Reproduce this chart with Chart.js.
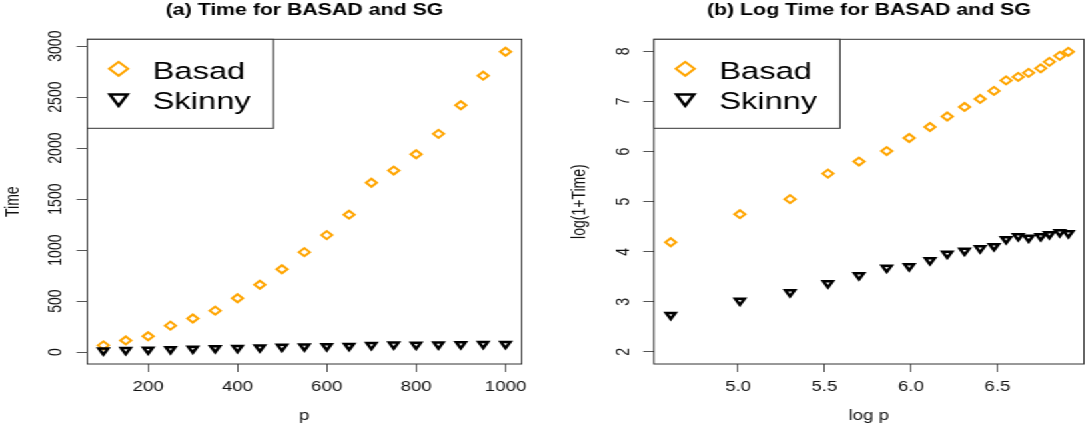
<!DOCTYPE html>
<html>
<head>
<meta charset="utf-8">
<title>Time for BASAD and SG</title>
<script src="https://cdn.jsdelivr.net/npm/chart.js@4.4.1/dist/chart.umd.min.js"></script>
<style>
    html, body { margin: 0; padding: 0; background: #fff; overflow: hidden; }
    /* both panels are drawn narrow and then widened together */
    #figure { position: absolute; left: 0; top: 0; width: 815px; height: 432px;
              transform: scaleX(1.332515); transform-origin: 0 0; }
    #figure canvas { position: absolute; top: 0; }
    #timeChart { left: 0; }
    #logChart { left: 425px; }
</style>
</head>
<body>
<div id="figure">
    <canvas id="timeChart" width="425" height="432"></canvas>
    <canvas id="logChart" width="395" height="432"></canvas>
</div>
<script>
// ==================== DATA ====================
const pValues = [100, 150, 200, 250, 300, 350, 400, 450, 500, 550, 600, 650, 700, 750, 800, 850, 900, 950, 1000];
const basadTime = [66, 114, 155, 259, 329, 406, 528, 660, 812, 980, 1147, 1347, 1660, 1780, 1940, 2140, 2420, 2710, 2945];
const skinnyTime = [14.5, 19.5, 23.3, 28.1, 33.1, 38.6, 39.9, 45.1, 51.5, 54.7, 57.6, 60.0, 69.1, 73.4, 71.2, 73.4, 76.5, 79.6, 78.0];

const logP = [4.61, 5.01, 5.30, 5.52, 5.70, 5.86, 5.99, 6.11, 6.21, 6.31, 6.40, 6.48, 6.55, 6.62, 6.68, 6.75, 6.80, 6.86, 6.91];
const basadLogTime = [4.19, 4.75, 5.05, 5.56, 5.80, 6.01, 6.27, 6.49, 6.70, 6.89, 7.05, 7.21, 7.42, 7.49, 7.57, 7.66, 7.79, 7.91, 7.99];
const skinnyLogTime = [2.74, 3.02, 3.19, 3.37, 3.53, 3.68, 3.71, 3.83, 3.96, 4.02, 4.07, 4.11, 4.25, 4.31, 4.28, 4.31, 4.35, 4.39, 4.37];

const pTicks = [200, 400, 600, 800, 1000];
const pTickLabels = ['200', '400', '600', '800', '1000'];
const timeTicks = [0, 500, 1000, 1500, 2000, 2500, 3000];
const timeTickLabels = ['0', '500', '1000', '1500', '2000', '2500', '3000'];
const logPTicks = [5.0, 5.5, 6.0, 6.5];
const logPTickLabels = ['5.0', '5.5', '6.0', '6.5'];
const logTimeTicks = [2, 3, 4, 5, 6, 7, 8];
const logTimeTickLabels = ['2', '3', '4', '5', '6', '7', '8'];

const seriesNames = ['Basad', 'Skinny'];

// ==================== STYLE ====================
const ORANGE = '#FFA500';
const INK = '#111';
const FONT = '"Liberation Sans", Arial, Helvetica, sans-serif';

Chart.defaults.font.family = FONT;
Chart.defaults.color = INK;

// ==================== PLOT FRAME ====================
const frameBox = {
    id: 'frameBox',
    afterDraw(chart) {
        const { ctx, chartArea: a } = chart;
        ctx.save();
        ctx.strokeStyle = '#333';
        ctx.lineWidth = 1;
        ctx.strokeRect(a.left, a.top, a.right - a.left, a.bottom - a.top);
        ctx.restore();
    }
};

// ==================== LEGEND IN TOP-LEFT CORNER ====================
const boxLegend = {
    id: 'boxLegend',
    afterDraw(chart) {
        const { ctx, chartArea: a } = chart;
        const w = 139.7, h = 89;
        ctx.save();
        ctx.fillStyle = '#fff';
        ctx.fillRect(a.left, a.top, w, h);
        ctx.strokeStyle = '#333';
        ctx.lineWidth = 1;
        ctx.strokeRect(a.left, a.top, w, h);

        const rows = [
            { y: 29.5, base: 39.5, style: 'rectRot', rotation: 0, radius: 7, width: 2, color: ORANGE },
            { y: 59, base: 69.5, style: 'triangle', rotation: 180, radius: 7.5, width: 2.5, color: '#000' }
        ];
        rows.forEach((row, i) => {
            ctx.strokeStyle = row.color;
            ctx.fillStyle = 'rgba(0,0,0,0)';
            ctx.lineWidth = row.width;
            Chart.helpers.drawPoint(ctx, {
                pointStyle: row.style, rotation: row.rotation, radius: row.radius, borderWidth: row.width
            }, a.left + 23.5, a.top + row.y);

            ctx.fillStyle = '#000';
            ctx.font = '24.5px ' + FONT;
            ctx.textAlign = 'left';
            ctx.textBaseline = 'alphabetic';
            ctx.fillText(seriesNames[i], a.left + 49, a.top + row.base);
        });
        ctx.restore();
    }
};

// ==================== BUILD ONE PANEL ====================
const toPoints = (xs, ys) => xs.map((x, i) => ({ x, y: ys[i] }));

const axisOptions = (range, ticks, labels, titleText, extra) => ({
    type: 'linear',
    min: range[0],
    max: range[1],
    afterBuildTicks: scale => { scale.ticks = ticks.map(value => ({ value })); },
    grid: { drawOnChartArea: false, drawTicks: true, tickLength: 8, color: '#555', lineWidth: 1 },
    border: { display: false },
    ticks: Object.assign({
        autoSkip: false,
        color: INK,
        font: { size: 14 },
        callback: (v, i) => labels[i]
    }, extra.ticks),
    title: {
        display: true,
        text: titleText,
        color: INK,
        font: { size: 14 },
        padding: extra.titlePadding
    },
    afterFit: extra.afterFit
});

const buildPanel = (canvasId, cfg) => new Chart(document.getElementById(canvasId), {
    type: 'scatter',
    data: {
        datasets: [
            {
                label: seriesNames[0],
                data: toPoints(cfg.x, cfg.basad),
                pointStyle: 'rectRot',
                pointRadius: 4,
                pointBorderWidth: 2,
                pointBorderColor: ORANGE,
                pointBackgroundColor: 'rgba(0,0,0,0)',
                order: 2
            },
            {
                label: seriesNames[1],
                data: toPoints(cfg.x, cfg.skinny),
                pointStyle: 'triangle',
                pointRotation: 180,
                pointRadius: 4,
                pointBorderWidth: 2.5,
                pointBorderColor: '#000',
                pointBackgroundColor: 'rgba(0,0,0,0)',
                order: 1
            }
        ]
    },
    options: {
        responsive: false,
        animation: false,
        events: [],
        layout: { padding: { left: 0, right: cfg.padRight, top: 0, bottom: 0 } },
        plugins: {
            legend: { display: false },
            tooltip: { enabled: false },
            title: {
                display: true,
                text: cfg.title,
                fullSize: false,
                color: '#000',
                font: { size: 16, weight: 'bold' },
                padding: { top: 1, bottom: 19.1 }
            }
        },
        scales: {
            x: axisOptions(cfg.xRange, cfg.xTicks, cfg.xLabels, cfg.xTitle, {
                ticks: { padding: 7, maxRotation: 0 },
                titlePadding: { top: 0, bottom: 7.6 },
                afterFit: scale => { scale.height = 68; }
            }),
            y: axisOptions(cfg.yRange, cfg.yTicks, cfg.yLabels, cfg.yTitle, {
                ticks: { padding: cfg.yTickPad, minRotation: 90, maxRotation: 90, crossAlign: 'center' },
                titlePadding: { top: 1.8, bottom: 0 },
                afterFit: scale => { scale.width = cfg.axisWidth; }
            })
        }
    },
    plugins: [frameBox, boxLegend]
});

// ==================== DRAW BOTH PANELS ====================
window.addEventListener('load', () => {
    buildPanel('timeChart', {
        title: '(a) Time for BASAD and SG',
        x: pValues, basad: basadTime, skinny: skinnyTime,
        xRange: [64, 1036], yRange: [-117, 3067],
        xTicks: pTicks, xLabels: pTickLabels,
        yTicks: timeTicks, yLabels: timeTickLabels,
        xTitle: 'p', yTitle: 'Time',
        axisWidth: 65.5, padRight: 33.5, yTickPad: -0.6
    });

    buildPanel('logChart', {
        title: '(b) Log Time for BASAD and SG',
        x: logP, basad: basadLogTime, skinny: skinnyLogTime,
        xRange: [4.513, 7.0], yRange: [1.76, 8.24],
        xTicks: logPTicks, xLabels: logPTickLabels,
        yTicks: logTimeTicks, yLabels: logTimeTickLabels,
        xTitle: 'log p', yTitle: 'log(1+Time)',
        axisWidth: 65.7, padRight: 4, yTickPad: 11.1
    });
});
</script>
</body>
</html>
